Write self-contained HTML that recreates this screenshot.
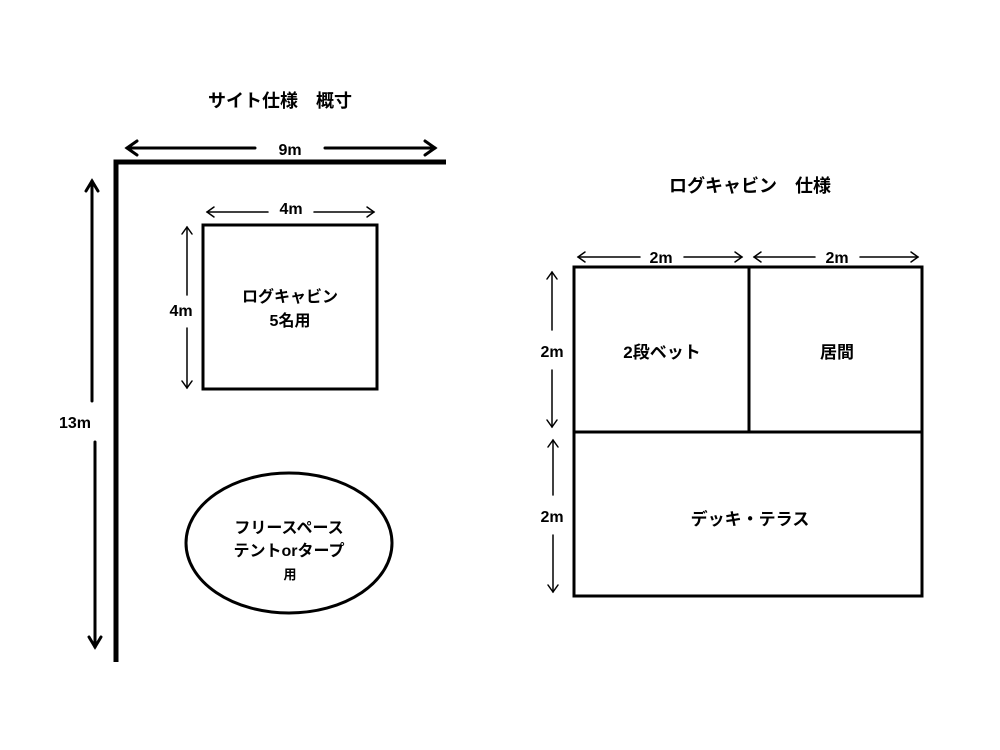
<!DOCTYPE html>
<html><head><meta charset="utf-8"><style>
html,body{margin:0;padding:0;background:#fff;}
svg{display:block;}
text{font-family:"Liberation Sans","Noto Sans CJK JP",sans-serif;font-weight:bold;fill:#000;}
</style></head><body>
<svg width="1000" height="750" viewBox="0 0 1000 750" xmlns="http://www.w3.org/2000/svg">
<g fill="none" stroke="#000" stroke-linecap="round" stroke-linejoin="miter">
<path d="M116 662 V162 H446" stroke-width="5" stroke-linecap="butt"/>
<g stroke-width="3">
<line x1="127" y1="148" x2="255" y2="148"/><line x1="325" y1="148" x2="435" y2="148"/>
<polyline points="137,141 127,148 137,155"/><polyline points="425,141 435,148 425,155"/>
<line x1="92" y1="181" x2="92" y2="401"/><line x1="95" y1="442" x2="95" y2="647"/>
<polyline points="86,191 92,181 98,191"/><polyline points="89,637 95,647 101,637"/>
</g>
<rect x="203" y="225" width="174" height="164" stroke-width="3"/>
<g stroke-width="1.5">
<line x1="207" y1="212" x2="268" y2="212"/><line x1="314" y1="212" x2="374" y2="212"/>
<polyline points="214,207 207,212 214,217"/><polyline points="367,207 374,212 367,217"/>
<line x1="187" y1="227" x2="187" y2="295"/><line x1="187" y1="328" x2="187" y2="388"/>
<polyline points="182,234 187,227 192,234"/><polyline points="182,381 187,388 192,381"/>
</g>
<ellipse cx="289" cy="543" rx="103" ry="70" stroke-width="3"/>
<rect x="574" y="267" width="348" height="329" stroke-width="3"/>
<line x1="749" y1="267" x2="749" y2="431" stroke-width="3"/>
<line x1="574" y1="432" x2="922" y2="432" stroke-width="3"/>
<g stroke-width="1.5">
<line x1="578" y1="257" x2="640" y2="257"/><line x1="684" y1="257" x2="742" y2="257"/>
<polyline points="585,252 578,257 585,262"/><polyline points="735,252 742,257 735,262"/>
<line x1="754" y1="257" x2="815" y2="257"/><line x1="860" y1="257" x2="918" y2="257"/>
<polyline points="761,252 754,257 761,262"/><polyline points="911,252 918,257 911,262"/>
<line x1="552" y1="272" x2="552" y2="330"/><line x1="552" y1="370" x2="552" y2="427"/>
<polyline points="547,279 552,272 557,279"/><polyline points="547,420 552,427 557,420"/>
<line x1="553" y1="440" x2="553" y2="495"/><line x1="553" y1="535" x2="553" y2="592"/>
<polyline points="548,447 553,440 558,447"/><polyline points="548,585 553,592 558,585"/>
</g>
</g>
<g text-anchor="middle" font-size="16">
<text x="280" y="107" font-size="18">サイト仕様　概寸</text>
<text x="290" y="155">9m</text>
<text x="75" y="428">13m</text>
<text x="291" y="214">4m</text>
<text x="181" y="316">4m</text>
<text x="290" y="302">ログキャビン</text>
<text x="290" y="326">5名用</text>
<text x="289" y="533">フリースペース</text>
<text x="289" y="556">テントorタープ</text>
<text x="290" y="579" font-size="13">用</text>
<text x="750" y="192" font-size="18">ログキャビン　仕様</text>
<text x="661" y="263">2m</text>
<text x="837" y="263">2m</text>
<text x="552" y="357">2m</text>
<text x="552" y="522">2m</text>
<text x="662" y="358" font-size="17">2段ベット</text>
<text x="837" y="358" font-size="17">居間</text>
<text x="750" y="525" font-size="17">デッキ・テラス</text>
</g>
</svg>
</body></html>
